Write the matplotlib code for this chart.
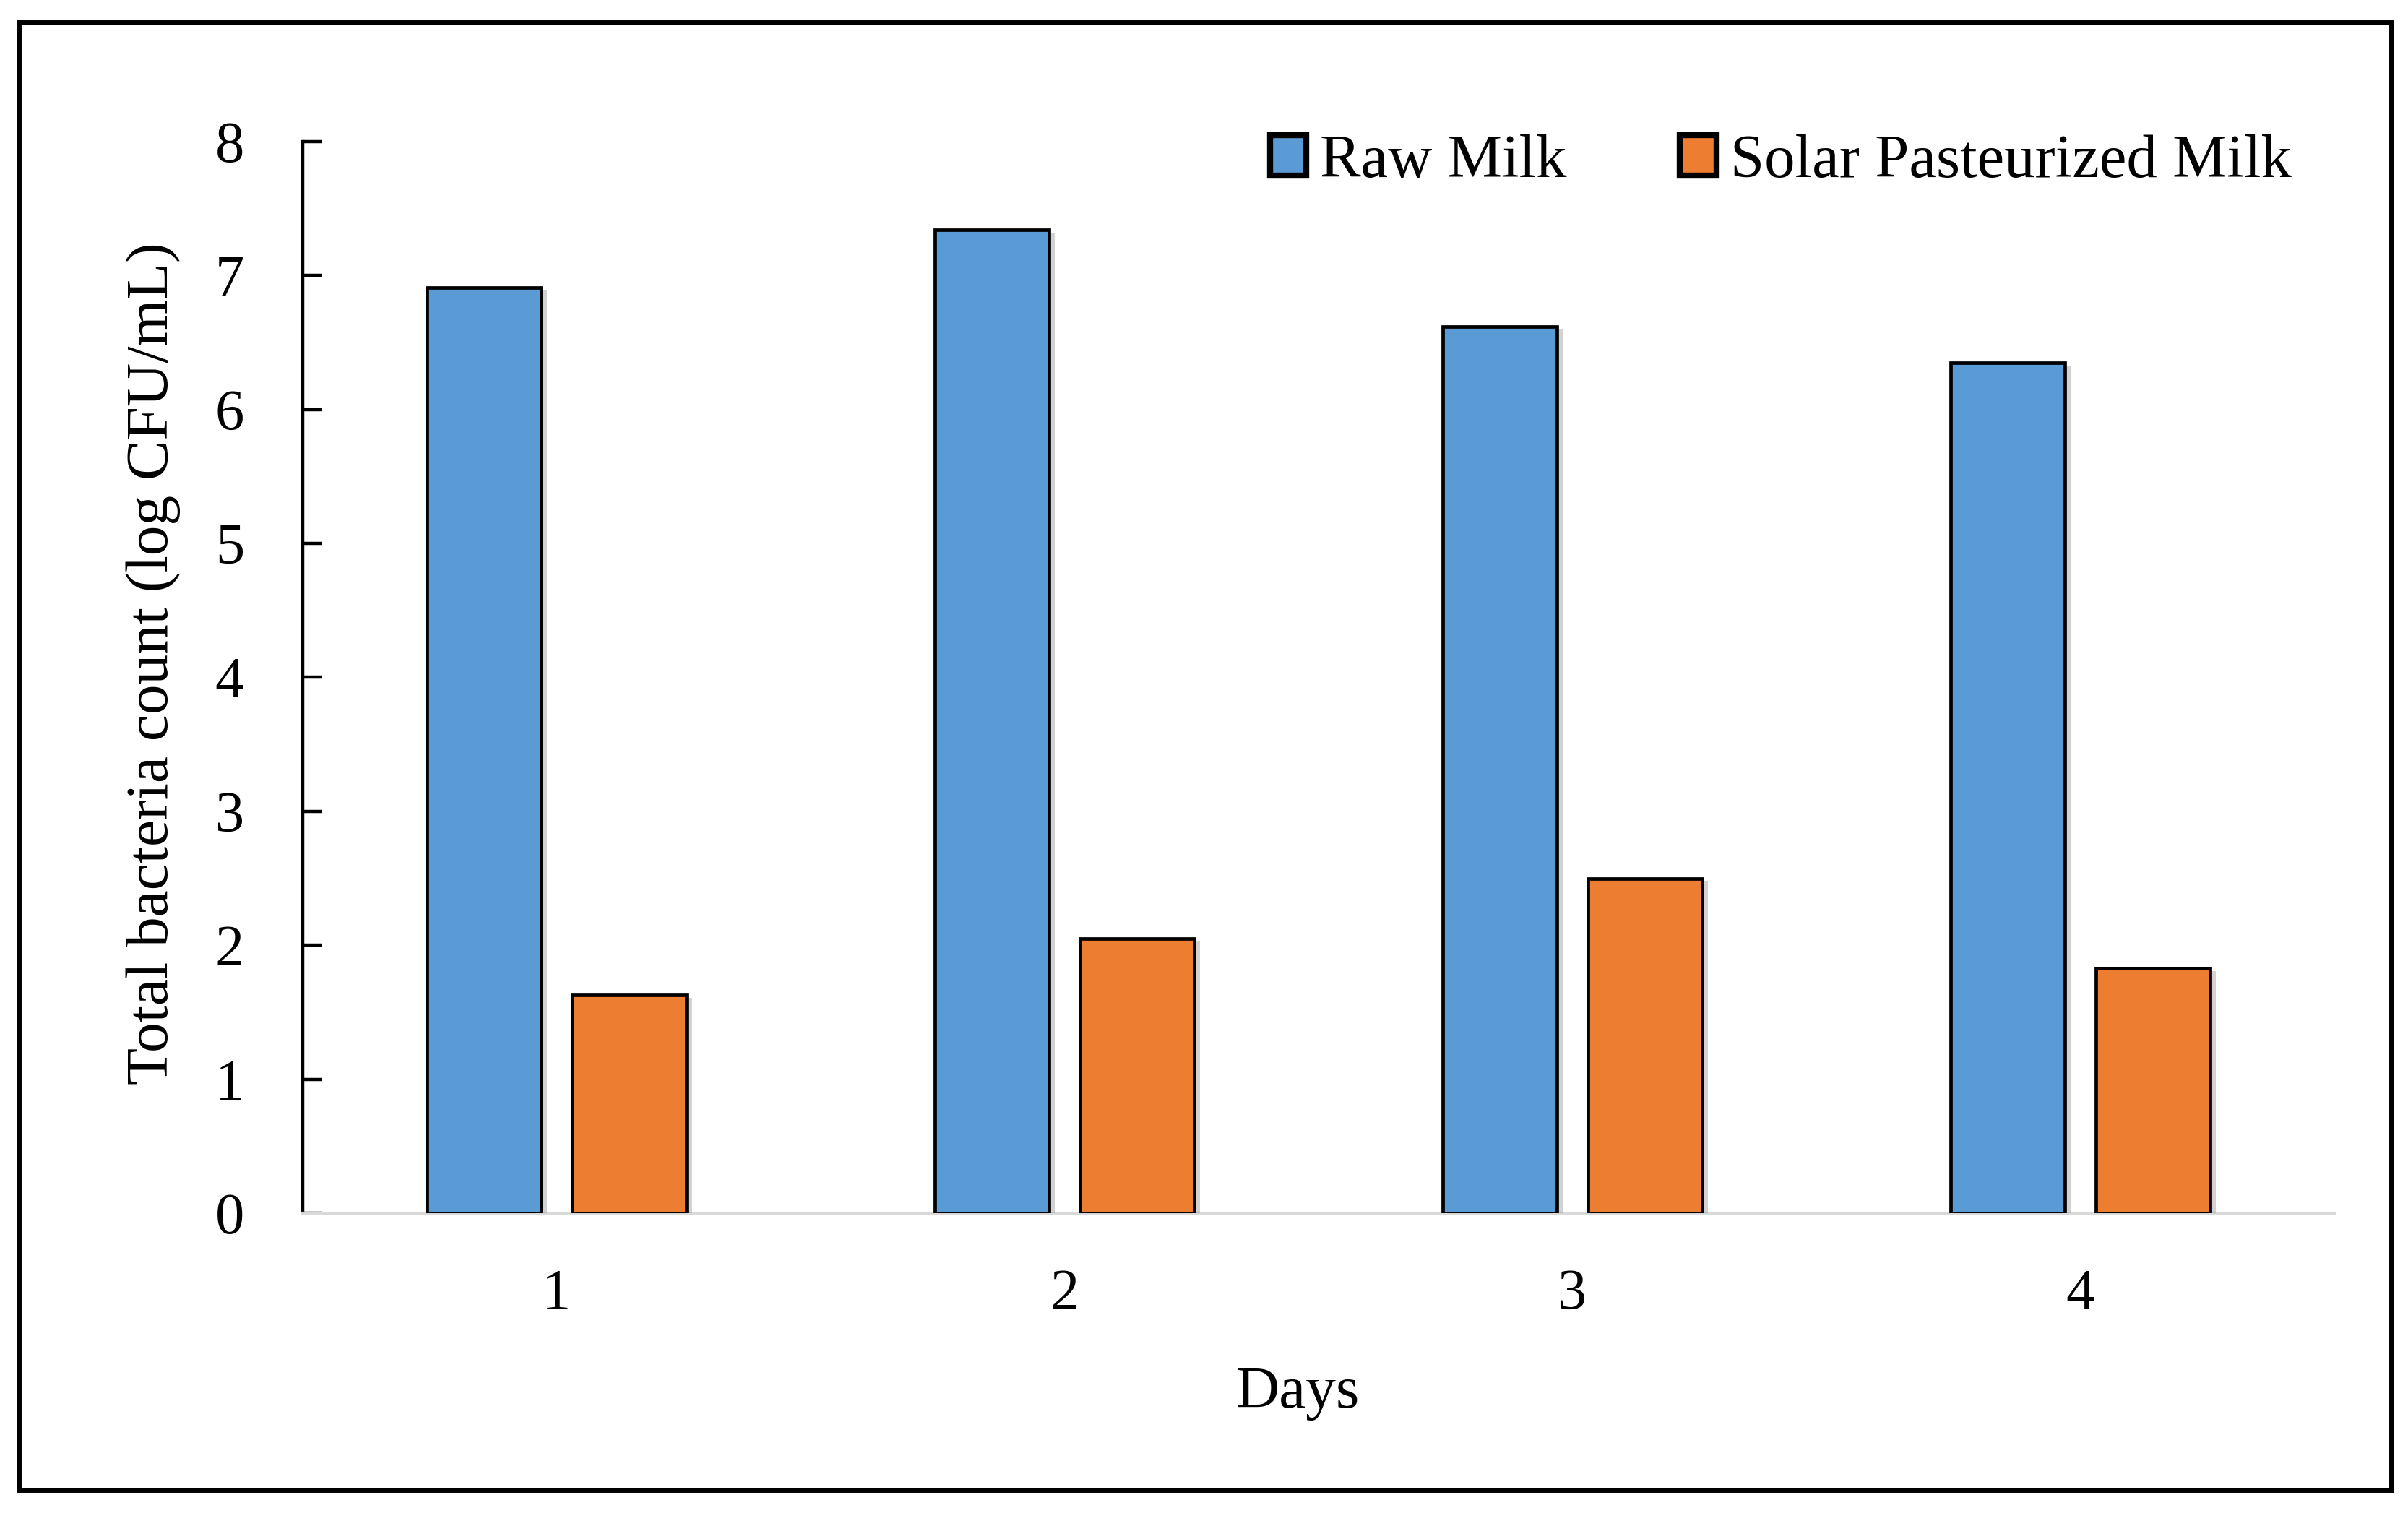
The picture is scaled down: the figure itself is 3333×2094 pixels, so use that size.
import numpy as np
import matplotlib
matplotlib.use('Agg')
import matplotlib.pyplot as plt
import matplotlib.patheffects as pe
from matplotlib.patches import Rectangle

# dados
dias = ['1', '2', '3', '4']
leite_cru = [6.91, 7.34, 6.62, 6.35]
leite_solar = [1.63, 2.05, 2.50, 1.83]
series_nomes = ['Raw Milk', 'Solar Pasteurized Milk']
cor_azul = '#5B9BD5'
cor_laranja = '#ED7D31'

plt.rcParams['font.family'] = ['Liberation Serif', 'DejaVu Serif']

fig = plt.figure(figsize=(33.33, 20.94), dpi=100)
ax = fig.add_axes([0.1256, 0.198, 0.9694 - 0.1256, 0.9066 - 0.198])

x = np.arange(1, len(dias) + 1)
largura = 0.225
desloc = 0.143
sombra = [pe.SimplePatchShadow(offset=(6, -3), shadow_rgbFace='#808080', alpha=0.35), pe.Normal()]

b1 = ax.bar(x - desloc, leite_cru, largura, color=cor_azul, edgecolor='black',
            linewidth=3.4, label=series_nomes[0], zorder=3)
b2 = ax.bar(x + desloc, leite_solar, largura, color=cor_laranja, edgecolor='black',
            linewidth=3.4, label=series_nomes[1], zorder=3)
for barra in list(b1) + list(b2):
    barra.set_path_effects(sombra)

ax.set_xlim(0.5, 4.5)
ax.set_ylim(0, 8)
ax.set_yticks(range(0, 9))
ax.set_xticks(x)
ax.set_xticklabels(dias)

ax.spines['top'].set_visible(False)
ax.spines['right'].set_visible(False)
ax.spines['left'].set_linewidth(3.2)
ax.spines['bottom'].set_color('#d9d9d9')
ax.spines['bottom'].set_linewidth(3.0)

ax.tick_params(axis='y', direction='in', length=19, width=3.2, labelsize=58, pad=58)
ax.tick_params(axis='x', length=0, labelsize=58, pad=55)

ax.set_xlabel('Days', fontsize=60)
ax.xaxis.set_label_coords(0.49, -0.142)
ax.set_ylabel('Total bacteria count (log CFU/mL)', fontsize=60)
ax.yaxis.set_label_coords(-0.06, 0.513)

leg = ax.legend(loc='center right', bbox_to_anchor=(0.9515, 0.893), bbox_transform=fig.transFigure,
                ncol=2, frameon=False, fontsize=61, handlelength=0.6, handleheight=0.64,
                handletextpad=0.22, columnspacing=1.85, borderpad=0, borderaxespad=0)
for h in leg.legend_handles:
    h.set_linewidth(6)
    h.set_path_effects([])

# moldura externa
fig.patches.append(Rectangle((0.0077, 0.0152), 0.993 - 0.0077, 0.985 - 0.0152,
                             transform=fig.transFigure, fill=False, edgecolor='black',
                             linewidth=5))

fig.savefig('out.png', dpi=100)
